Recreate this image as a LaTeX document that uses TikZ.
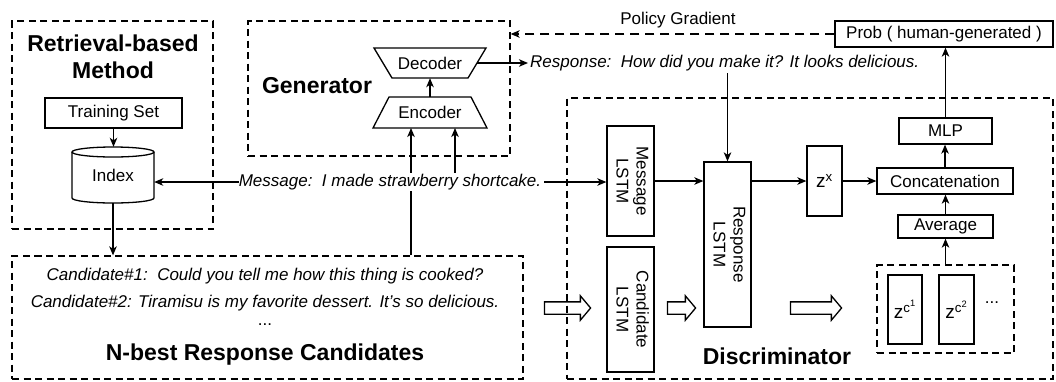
\documentclass[tikz,border=0pt]{standalone}
\usepackage{fontspec}
\setmainfont{Liberation Sans}
\usepackage{graphicx}
\usetikzlibrary{arrows.meta,shapes.arrows,backgrounds}
\begin{document}
\begin{tikzpicture}[x=1pt,y=-1pt,
  every node/.style={font=\fontsize{17}{20}\selectfont, inner sep=0pt},
  box/.style={draw, line width=1.3pt},
  dbox/.style={draw, line width=1.3pt, dash pattern=on 7pt off 4.5pt},
  title/.style={font=\fontsize{23}{27}\selectfont\bfseries, align=center},
  lab/.style={font=\fontsize{17}{20}\selectfont\itshape},
  conn/.style={line width=1.3pt, -{Stealth[length=9pt,width=7.5pt,inset=2.5pt]}},
  blk/.style={single arrow, draw, line width=1.3pt, inner xsep=0pt, inner ysep=5.5pt, single arrow head extend=6pt, single arrow tip angle=100, minimum height=#1},
]
\useasboundingbox (0,0) rectangle (1056,381);

% dashed group boxes
\node[dbox, minimum width=201pt, minimum height=208pt] (ret) at (112.5,125) {};
\node[dbox, minimum width=262pt, minimum height=135pt] (gen) at (379,88.5) {};
\node[dbox, minimum width=511pt, minimum height=123pt] (nb) at (267.5,317.5) {};
\node[dbox, minimum width=486pt, minimum height=281pt] (disc) at (810,238.5) {};
\node[dbox, minimum width=137pt, minimum height=88pt] (zcb) at (945.5,309) {};

% titles
\node[title] (rett) at (113,57) {Retrieval-based\\Method};
\node[title] (gent) at (317,86) {Generator};
\node[title] (nbt) at (265,355) {N-best Response Candidates};
\node[title] (disct) at (777,356) {Discriminator};

% retrieval
\node[box, minimum width=137pt, minimum height=30pt] (train) at (113.5,113) {Training Set};
\node[minimum width=82pt, minimum height=56pt] (index) at (113,175) {\raisebox{-7pt}{Index}};
\draw[line width=1.3pt] (113,152) ellipse [x radius=41, y radius=5];
\draw[line width=1.3pt] (72,152) -- (72,198) arc[start angle=180, end angle=0, x radius=41, y radius=5] -- (154,152);

% generator
\draw[box] (374,48) -- (486,48) -- (468,78) -- (392,78) -- cycle;
\draw[box] (389,97) -- (471,97) -- (487,128) -- (373,128) -- cycle;
\node[minimum width=94pt, minimum height=30pt] (dec) at (430,63) {Decoder};
\node[minimum width=80pt, minimum height=31pt] (enc) at (430,112.5) {Encoder};
\coordinate (encin1) at (411,128);
\coordinate (encin2) at (455,128);

% texts
\node[lab, fill=white, inner ysep=1pt] (msg) at (390,182) {Message:\ \ I made strawberry shortcake.};
\node[lab, anchor=west] (resp) at (530,63) {Response:\ \ How did you make it? It looks delicious.};
\node (pg) at (678,20) {Policy Gradient};
\node[lab] (c1) at (265,276) {Candidate\#1:\ \ Could you tell me how this thing is cooked?};
\node[lab] (c2) at (265,303) {Candidate\#2: Tiramisu is my favorite dessert. It’s so delicious.};
\node (dots) at (265,325) {...};

% discriminator
\node[box, minimum width=47pt, minimum height=110pt] (msglstm) at (630.5,181) {\rotatebox{-90}{\begin{tabular}{@{}c@{}}Message\\LSTM\end{tabular}}};
\node[box, minimum width=47pt, minimum height=125pt] (candlstm) at (630.5,309.5) {\rotatebox{-90}{\begin{tabular}{@{}c@{}}Candidate\\LSTM\end{tabular}}};
\node[box, minimum width=47pt, minimum height=165pt] (resplstm) at (727.5,244.5) {\rotatebox{-90}{\begin{tabular}{@{}c@{}}Response\\LSTM\end{tabular}}};
\node[box, minimum width=35pt, minimum height=70pt, font=\fontsize{19}{22}\selectfont] (zx) at (824.5,181) {z\textsuperscript{x}};
\node[box, minimum width=136pt, minimum height=26pt] (concat) at (945,181) {Concatenation};
\node[box, minimum width=93pt, minimum height=26pt] (mlp) at (945.5,131) {MLP};
\node[box, minimum width=218pt, minimum height=26pt] (prob) at (944,34) {Prob ( human-generated )};
\node[box, minimum width=95pt, minimum height=23pt] (avg) at (945.5,226.5) {Average};
\node[box, minimum width=34pt, minimum height=69pt, font=\fontsize{19}{22}\selectfont] (zc1) at (905,309.5) {z\textsuperscript{c\textsuperscript{1}}};
\node[box, minimum width=35pt, minimum height=69pt, font=\fontsize{19}{22}\selectfont] (zc2) at (956.5,309.5) {z\textsuperscript{c\textsuperscript{2}}};
\node (zdots) at (992,303) {...};

% block arrows
\node[blk=46pt] (b1) at (565,308) {};
\node[blk=28pt] (b2) at (679,308) {};
\node[blk=51pt] (b3) at (813.5,308) {};

\begin{pgfonlayer}{background}
\draw[conn] (train) -- (train.south |- index.north);
\draw[conn] (msg.west) -- (msg.west -| index.east);
\draw[conn] (index.south) -- (index.south |- nb.north);
\draw[conn] (encin1 |- nb.north) -- (encin1);
\draw[conn] (encin2 |- msg.north) -- (encin2);
\draw[conn] (enc.north) -- (dec.south);
\draw[conn] (dec.east) -- ([xshift=-2pt]resp.west);
\draw[conn] (resplstm.north |- resp.south) ++(0,2) -- (resplstm.north);
\draw[conn, dash pattern=on 9pt off 6pt] (prob.west) -- (prob.west -| gen.east);
\draw[conn, shorten <=3pt] (msg.east) -- (msg.east -| msglstm.west);
\draw[conn] (msglstm.east) -- (msglstm.east -| resplstm.west);
\draw[conn] (zx.west -| resplstm.east) -- (zx.west);
\draw[conn] (zx.east) -- (concat.west);
\draw[conn] (concat.north) -- (concat.north |- mlp.south);
\draw[conn] (mlp.north) -- (mlp.north |- prob.south);
\draw[conn] (zcb.north) -- (zcb.north |- avg.south);
\draw[conn] (avg.north) -- (avg.north |- concat.south);
\end{pgfonlayer}
\end{tikzpicture}
\end{document}
